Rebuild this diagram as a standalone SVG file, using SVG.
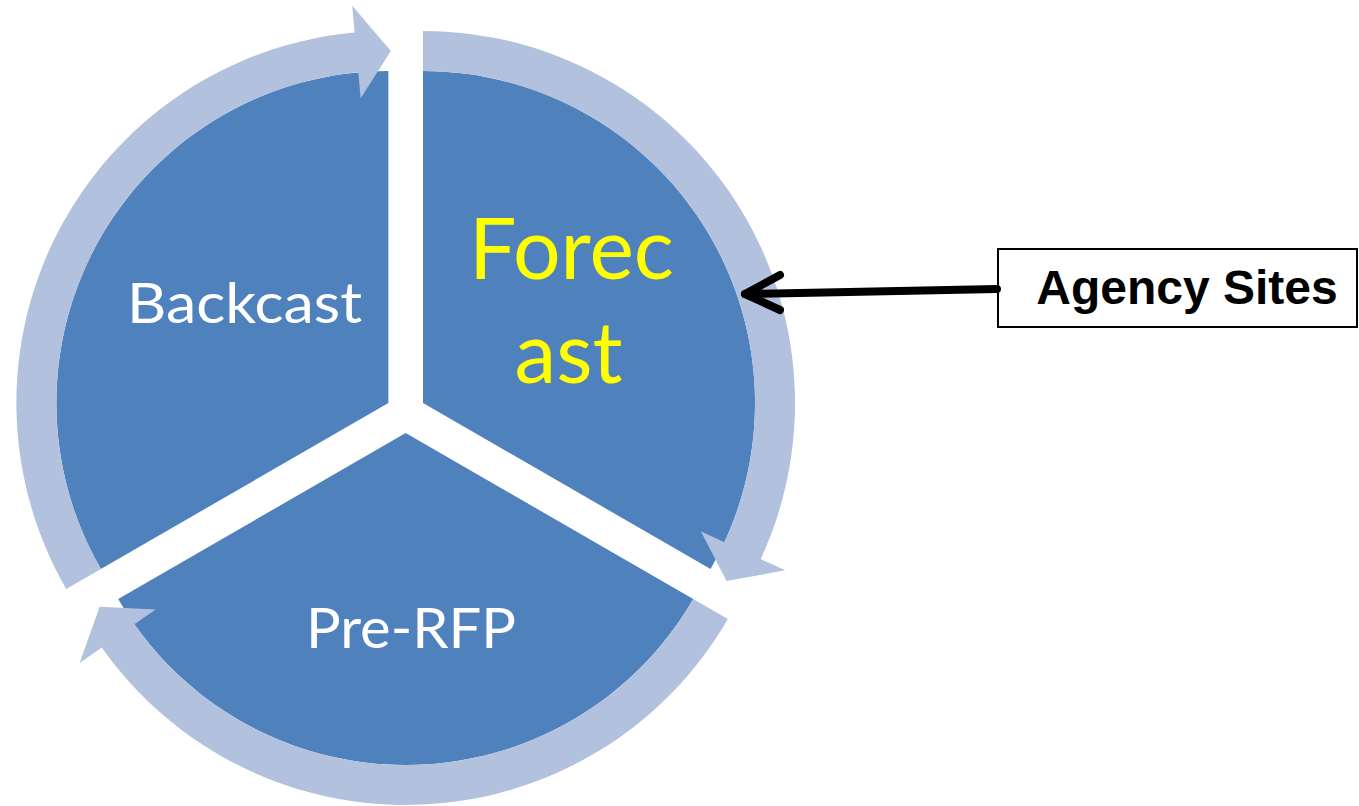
<svg xmlns="http://www.w3.org/2000/svg" width="1359" height="806" viewBox="0 0 1359 806">
  <style>
    .wedge { fill: #4F81BD; }
    .ring { fill: #B2C1DD; }
    .lbl { font-family: Lato, "Open Sans", sans-serif; text-anchor: middle; }
    .white { fill: #FFFFFF; }
    .yellow { fill: #FFFF00; }
    .conn { fill: none; stroke: #000000; stroke-width: 8; stroke-linecap: round; stroke-linejoin: round; }
    .box { fill: #FFFFFF; stroke: #000000; stroke-width: 2; }
    .boxtxt { font-family: "Liberation Sans", Arial, sans-serif; font-weight: bold; font-size: 48px; fill: #000000; text-anchor: middle; }
  </style>
  <rect width="1359" height="806" fill="#FFFFFF"/>

  <g id="node-forecast">
    <path class="wedge" d="M423.02,403 L423.02,71 A332,332 0 0 1 710.54,569 Z"/>
    <path class="ring" d="M423.02,31 A372,372 0 0 1 760.71,559.04 L785.22,570.36 L726.62,581.12 L700.80,531.35 L724.40,542.26 A332,332 0 0 0 423.02,71 Z"/>
    <text class="lbl yellow" x="571.5" y="279" font-size="86" textLength="205" lengthAdjust="spacingAndGlyphs">Forec</text>
    <text class="lbl yellow" x="568.5" y="383" font-size="86" textLength="108" lengthAdjust="spacingAndGlyphs">ast</text>
  </g>

  <g id="node-prerfp">
    <path class="wedge" d="M405.7,433 L693.22,599 A332,332 0 0 1 118.18,599 Z"/>
    <path class="ring" d="M727.86,619 A372,372 0 0 1 101.72,647.43 L79.66,663.00 L99.64,606.87 L155.66,609.39 L134.41,624.37 A332,332 0 0 0 693.22,599 Z"/>
    <text class="lbl white" x="411" y="648" font-size="56" textLength="210" lengthAdjust="spacingAndGlyphs">Pre-RFP</text>
  </g>

  <g id="node-backcast">
    <path class="wedge" d="M388.38,403 L100.86,569 A332,332 0 0 1 388.38,71 Z"/>
    <path class="ring" d="M66.22,589 A372,372 0 0 1 354.67,32.53 L352.22,5.64 L390.84,51.01 L360.65,98.26 L358.29,72.37 A332,332 0 0 0 100.86,569 Z"/>
    <text class="lbl white" x="244.5" y="323" font-size="57" textLength="235" lengthAdjust="spacingAndGlyphs">Backcast</text>
  </g>

  <g id="node-agency-sites">
    <rect class="box" x="998" y="249" width="359" height="78"/>
    <text class="boxtxt" x="1187" y="304">Agency Sites</text>
  </g>

  <g id="connectors">
    <path class="conn" d="M997,289 L745,294"/>
    <polyline class="conn" points="780,275 745,294 780,310"/>
  </g>
</svg>
